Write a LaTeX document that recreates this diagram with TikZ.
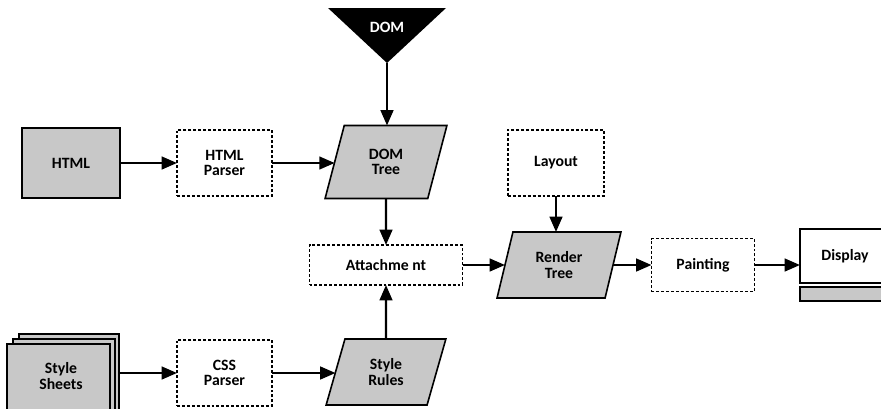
\documentclass[tikz,border=0pt]{standalone}
\usepackage{fontspec}
\setmainfont{Carlito}
\usetikzlibrary{shapes.geometric,arrows.meta}
\definecolor{boxgray}{RGB}{200,200,200}
\begin{document}
\begin{tikzpicture}[x=0.75pt,y=-0.75pt,
  every node/.style={font=\fontsize{11.8}{11.5}\selectfont\bfseries, align=center, inner sep=0pt, outer sep=0pt},
  solidbox/.style={draw, line width=1.2pt, fill=boxgray},
  dashbox/.style={draw, line width=1pt, dash pattern=on 2.2pt off 1.5pt, fill=white},
  para/.style={trapezium, trapezium left angle=73, trapezium right angle=107, trapezium stretches=true, draw, line width=1.2pt, fill=boxgray},
  conn/.style={line width=1.7pt, -{Triangle[length=11.5pt,width=9.5pt]}}]
\useasboundingbox (0,0) rectangle (881,408);
\begin{scope}
\clip (0,0) rectangle (881,408);
% DOM marker
\fill (328,8) -- (446,8) -- (387,63) -- cycle;
\node[text=white] (dom) at (387,27) {DOM};
\coordinate (domapex) at (387,63);
% top row
\node[solidbox, minimum width=73.5pt, minimum height=52.5pt] (html) at (71,163) {HTML};
\node[dashbox, minimum width=71.25pt, minimum height=49.5pt] (htmlparser) at (224.5,163) {HTML\\Parser};
\node[para, minimum width=91.5pt, minimum height=54.75pt] (domtree) at (386,162) {DOM\\Tree};
\node[dashbox, minimum width=72pt, minimum height=49.5pt] (layout) at (556,163) {Layout};
% middle row
\node[dashbox, minimum width=114.75pt, minimum height=30pt] (attach) at (386,265) {Attachme nt};
\node[para, minimum width=93pt, minimum height=49.5pt] (render) at (559,265) {Render\\Tree};
\node[dashbox, minimum width=77.25pt, minimum height=39.75pt] (paint) at (703,265) {Painting};
\node[draw, line width=1.2pt, fill=white, minimum width=67.5pt, minimum height=40.5pt] (display) at (845,256) {Display};
\filldraw[fill=boxgray, line width=0.9pt] (800,287) rectangle (890,301);
% bottom row
\filldraw[fill=boxgray, line width=0.8pt] (19,334) rectangle (119,420);
\filldraw[fill=boxgray, line width=0.8pt] (13,339) rectangle (115,420);
\filldraw[fill=boxgray, line width=0.8pt] (7,344) rectangle (110,420);
\node (sheets) at (61,376) {Style\\Sheets};
\coordinate (sheetsR) at (119,373);
\node[dashbox, minimum width=71.25pt, minimum height=49.5pt] (cssparser) at (224.5,373) {CSS\\Parser};
\node[para, minimum width=90pt, minimum height=49.5pt] (stylerules) at (386,372) {Style\\Rules};
% connectors
\draw[conn] (html.east) -- (htmlparser.west);
\draw[conn] (htmlparser.east) -- (htmlparser.east -| domtree.left side);
\draw[conn] (domapex) -- (domapex |- domtree.north);
\draw[conn] (domtree.south) -- (attach.north);
\draw[conn] (stylerules.north) -- (attach.south);
\draw[conn] (sheetsR) -- (cssparser.west);
\draw[conn] (cssparser.east) -- (cssparser.east -| stylerules.left side);
\draw[conn] (layout.south) -- (layout.south |- render.north);
\draw[conn] (attach.east) -- (render.left side);
\draw[conn] (render.right side) -- (paint.west);
\draw[conn] (paint.east) -- (paint.east -| display.west);
\end{scope}
\end{tikzpicture}
\end{document}
